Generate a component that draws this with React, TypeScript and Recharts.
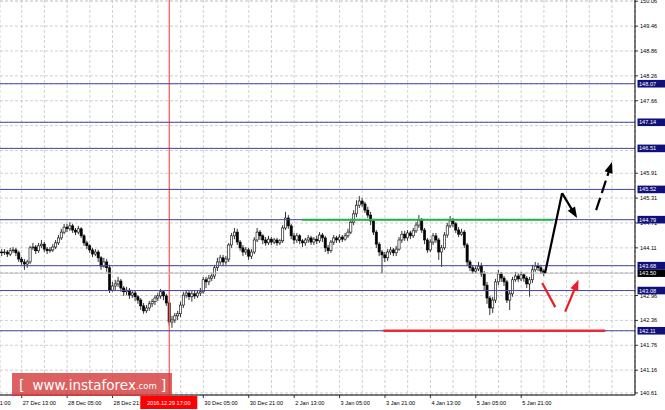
import React from 'react';
import { ComposedChart, Bar, XAxis, YAxis, CartesianGrid, ReferenceLine } from 'recharts';

// ---- candle data (hourly bars) ----
const opens = [144.01,143.99,144.01,143.96,144.04,144.06,143.99,143.84,143.77,143.72,
143.77,144.11,144.13,144.04,144.16,144.20,144.08,144.04,144.06,144.13,
144.23,144.35,144.49,144.61,144.57,144.64,144.54,144.49,144.57,144.40,
144.23,144.16,144.06,143.96,144.01,143.87,143.67,143.77,143.63,143.09,
143.19,143.24,143.31,143.14,143.05,143.09,142.97,143.02,142.93,142.85,
142.71,142.59,142.66,142.76,142.81,142.90,142.95,143.05,142.95,142.78,
142.32,142.37,142.47,142.52,142.73,142.97,143.02,142.93,143.00,142.95,
143.02,143.05,143.34,143.29,143.38,143.43,143.63,143.77,143.87,143.77,
143.84,144.18,144.40,144.49,144.25,144.11,144.01,144.06,143.91,144.01,
144.30,144.49,144.40,144.30,144.23,144.32,144.25,144.30,144.23,144.28,
144.59,144.83,144.64,144.40,144.30,144.40,144.28,144.23,144.30,144.35,
144.25,144.32,144.28,144.42,144.35,144.11,144.04,144.25,144.35,144.30,
144.37,144.32,144.40,144.49,144.73,144.93,145.14,145.24,145.17,145.02,
144.90,144.76,144.49,144.20,144.01,143.94,143.87,144.01,144.06,143.99,
144.08,144.30,144.44,144.35,144.47,144.40,144.52,144.66,144.78,144.54,
144.30,144.06,144.25,144.40,144.30,144.01,144.11,144.42,144.64,144.76,
144.69,144.54,144.44,144.49,144.18,143.77,143.63,143.55,143.60,143.67,
143.48,143.21,142.90,142.66,142.85,143.29,143.48,143.38,143.29,142.85,
143.00,143.34,143.43,143.36,143.46,143.38,143.24,143.34,143.58,143.67,
143.63,143.55];

const highs = [144.08,144.08,144.06,144.11,144.13,144.11,144.04,143.89,143.84,143.82,
144.16,144.23,144.18,144.23,144.30,144.25,144.13,144.13,144.20,144.30,
144.42,144.57,144.69,144.69,144.73,144.69,144.59,144.64,144.61,144.44,
144.28,144.20,144.11,144.08,144.06,143.91,143.87,143.84,143.70,143.29,
143.34,143.41,143.36,143.19,143.17,143.14,143.09,143.07,142.97,142.90,
142.78,142.73,142.83,142.88,142.97,143.02,143.12,143.09,143.00,142.83,
142.47,142.54,142.59,142.81,143.05,143.09,143.09,143.07,143.07,143.09,
143.14,143.41,143.41,143.46,143.50,143.70,143.87,143.94,143.94,143.91,
144.23,144.47,144.59,144.57,144.30,144.18,144.13,144.11,144.08,144.37,
144.59,144.54,144.44,144.37,144.40,144.37,144.35,144.35,144.32,144.66,
144.98,144.90,144.69,144.47,144.47,144.44,144.32,144.35,144.42,144.40,
144.37,144.40,144.49,144.47,144.40,144.18,144.30,144.42,144.40,144.44,
144.42,144.47,144.57,144.81,145.02,145.26,145.36,145.31,145.22,145.10,
144.98,144.81,144.54,144.25,144.06,144.01,144.08,144.13,144.11,144.16,
144.37,144.52,144.52,144.54,144.52,144.59,144.73,144.90,144.83,144.59,
144.35,144.32,144.47,144.47,144.35,144.18,144.49,144.71,144.88,144.83,
144.73,144.61,144.57,144.54,144.23,143.82,143.70,143.67,143.77,143.75,
143.55,143.29,142.95,142.93,143.36,143.58,143.53,143.43,143.34,143.07,
143.41,143.53,143.50,143.53,143.50,143.43,143.41,143.70,143.77,143.75,
143.70,143.60];

const lows = [143.91,143.94,143.89,143.91,143.99,143.91,143.77,143.70,143.58,143.63,
143.72,144.06,143.96,143.99,144.11,144.01,143.96,143.99,144.01,144.08,
144.18,144.30,144.44,144.49,144.52,144.47,144.42,144.44,144.35,144.16,
144.08,143.99,143.89,143.91,143.77,143.58,143.63,143.53,143.02,143.05,
143.09,143.17,143.05,142.95,142.97,142.88,142.90,142.83,142.76,142.61,
142.52,142.54,142.59,142.68,142.73,142.83,142.88,142.85,142.71,142.23,
142.18,142.30,142.37,142.44,142.66,142.90,142.85,142.81,142.88,142.90,
142.95,143.00,143.14,143.21,143.31,143.36,143.55,143.70,143.67,143.70,
143.77,144.11,144.32,144.18,144.04,143.91,143.94,143.82,143.84,143.96,
144.25,144.30,144.20,144.16,144.18,144.18,144.20,144.16,144.18,144.23,
144.54,144.57,144.32,144.20,144.23,144.20,144.13,144.16,144.23,144.18,
144.18,144.20,144.23,144.25,144.01,143.96,143.99,144.18,144.23,144.23,
144.25,144.28,144.35,144.44,144.66,144.85,145.07,145.10,144.95,144.83,
144.66,144.42,144.11,143.91,143.50,143.77,143.79,143.94,143.91,143.91,
144.04,144.23,144.28,144.28,144.32,144.35,144.47,144.59,144.47,144.20,
143.99,144.01,144.18,144.23,143.82,143.65,144.06,144.35,144.59,144.61,
144.47,144.37,144.40,144.11,143.67,143.55,143.48,143.50,143.55,143.41,
143.09,142.76,142.49,142.54,142.78,143.21,143.29,143.19,142.78,142.61,
142.93,143.29,143.29,143.31,143.29,143.14,142.93,143.26,143.53,143.55,
143.48,143.43];

const closes = [143.99,144.01,143.96,144.04,144.06,143.99,143.84,143.77,143.72,143.77,
144.11,144.13,144.04,144.16,144.20,144.08,144.04,144.06,144.13,144.23,
144.35,144.49,144.61,144.57,144.64,144.54,144.49,144.57,144.40,144.23,
144.16,144.06,143.96,144.01,143.87,143.67,143.77,143.63,143.09,143.19,
143.24,143.31,143.14,143.05,143.09,142.97,143.02,142.93,142.85,142.71,
142.59,142.66,142.76,142.81,142.90,142.95,143.05,142.95,142.78,142.32,
142.37,142.47,142.52,142.73,142.97,143.02,142.93,143.00,142.95,143.02,
143.05,143.34,143.29,143.38,143.43,143.63,143.77,143.87,143.77,143.84,
144.18,144.40,144.49,144.25,144.11,144.01,144.06,143.91,144.01,144.30,
144.49,144.40,144.30,144.23,144.32,144.25,144.30,144.23,144.28,144.59,
144.83,144.64,144.40,144.30,144.40,144.28,144.23,144.30,144.35,144.25,
144.32,144.28,144.42,144.35,144.11,144.04,144.25,144.35,144.30,144.37,
144.32,144.40,144.49,144.73,144.93,145.14,145.24,145.17,145.02,144.90,
144.76,144.49,144.20,144.01,143.94,143.87,144.01,144.06,143.99,144.08,
144.30,144.44,144.35,144.47,144.40,144.52,144.66,144.78,144.54,144.30,
144.06,144.25,144.40,144.30,144.01,144.11,144.42,144.64,144.76,144.69,
144.54,144.44,144.49,144.18,143.77,143.63,143.55,143.60,143.67,143.48,
143.21,142.90,142.66,142.85,143.29,143.48,143.38,143.29,142.85,143.00,
143.34,143.43,143.36,143.46,143.38,143.24,143.34,143.58,143.67,143.63,
143.55,143.50];

// ---- axes ----
const xDomain = [-0.65, 223.1];
const gridBars = [7, 15, 23, 31, 39, 47, 55, 63, 71, 79, 87, 95, 103, 111, 119, 127, 135, 143, 151, 159, 167, 175, 183, 191, 199, 207, 215, 223];
const labelBars = [7, 23, 39, 55, 71, 87, 103, 119, 135, 151, 167, 183];
const labelTexts = ['27 Dec 13:00', '28 Dec 05:00', '28 Dec 21:00', '29 Dec 13:00', '30 Dec 05:00', '30 Dec 21:00', '2 Jan 13:00', '3 Jan 05:00', '3 Jan 21:00', '4 Jan 13:00', '5 Jan 05:00', '5 Jan 21:00'];
const prevLabel = '26 Dec 21:00';
const barsPerLabel = 16;

const yDomain = [140.56, 150.09];
const priceTicks = [150.06, 149.46, 148.86, 148.26, 147.66, 147.06, 146.46, 145.91, 145.31, 144.71, 144.11, 143.51, 142.96, 142.36, 141.76, 141.16, 140.61];
const coveredTicks = [147.06, 146.46, 143.51];

// ---- annotations ----
const levels = [148.07, 147.14, 146.51, 145.52, 144.79, 143.68, 143.08, 142.11];
const currentPrice = 143.5;
const markerBar = 59;
const markerText = '2016.12.29 17:00';
const greenSeg = { from: 105.7, to: 194.3, price: 144.79 };
const redSeg = { from: 134.4, to: 212.6, price: 142.11 };

const blackArrows = [
  { pts: [{ x: 191.4, y: 143.5 }, { x: 197.4, y: 145.43 }], head: false, dash: false },
  { pts: [{ x: 197.4, y: 145.43 }, { x: 202.7, y: 144.83 }], head: true, dash: false },
  { pts: [{ x: 209.4, y: 145.02 }, { x: 215.0, y: 146.18 }], head: true, dash: true },
];
const redArrows = [
  { pts: [{ x: 190.4, y: 143.26 }, { x: 195.0, y: 142.68 }], head: false, dash: false },
  { pts: [{ x: 198.5, y: 142.57 }, { x: 203.2, y: 143.34 }], head: true, dash: false },
];

const FONT = 'Liberation Sans, Arial, sans-serif';
const FS = 5.6;

const data = closes.map((c, i) => ({
  i,
  o: opens[i],
  h: highs[i],
  l: lows[i],
  c,
  range: [lows[i], highs[i]],
}));

// tick lists: extra ticks (marker / levels) come last so they are painted on top
const xTicks = [...gridBars, markerBar];
const yTicks = [...priceTicks, currentPrice, ...levels];

const Candle = (props: any) => {
  const { x, y, width, height, payload } = props;
  if (x == null || y == null || !payload) return null;
  const top = Math.min(y, y + height);
  const hgt = Math.abs(height);
  const { o, h, l, c } = payload;
  const cx = x + width / 2;
  const ppu = h === l ? 0 : hgt / (h - l);
  const yO = top + (h - o) * ppu;
  const yC = top + (h - c) * ppu;
  const bTop = Math.min(yO, yC);
  const bH = Math.max(Math.abs(yO - yC), 0.8);
  const bull = c >= o;
  return (
    <g>
      <line x1={cx} x2={cx} y1={top} y2={top + hgt} stroke="#000" strokeWidth={0.8} />
      <rect x={cx - 1.1} y={bTop} width={2.2} height={bH} fill={bull ? '#fff' : '#000'} stroke="#000" strokeWidth={0.6} />
    </g>
  );
};

const XTick = (props: any) => {
  const { x, y, payload } = props;
  const v = payload.value;
  if (v === markerBar && xTicks.indexOf(v) === xTicks.length - 1) {
    return (
      <g>
        <rect x={x - 29} y={y + 1} width={57} height={13} fill="#ff0000" />
        <text x={x - 0.5} y={y + 10} textAnchor="middle" fontSize={FS} fontFamily={FONT} fill="#fff">{markerText}</text>
      </g>
    );
  }
  const idx = labelBars.indexOf(v);
  if (idx < 0) return null;
  const pxPerBar = 635 / (xDomain[1] - xDomain[0]);
  return (
    <g>
      <line x1={x} x2={x} y1={y} y2={y + 3} stroke="#000" strokeWidth={0.8} />
      <text x={x + 1} y={y + 10} fontSize={FS} fontFamily={FONT} fill="#000">{labelTexts[idx]}</text>
      {idx === 0 && (
        <text x={x - barsPerLabel * pxPerBar + 1} y={y + 10} fontSize={FS} fontFamily={FONT} fill="#000">{prevLabel}</text>
      )}
    </g>
  );
};

const YTick = (props: any) => {
  const { x, y, payload } = props;
  const v = payload.value;
  const isLevel = levels.includes(v);
  const isCurrent = v === currentPrice;
  if (isLevel || isCurrent) {
    return (
      <g>
        <rect x={x + 2.5} y={y - 3.8} width={28} height={7.6} fill={isCurrent ? '#000' : '#10107a'} />
        <text x={x + 4} y={y} dy="0.36em" fontSize={FS} fontFamily={FONT} fill="#fff">{v.toFixed(2)}</text>
      </g>
    );
  }
  if (coveredTicks.includes(v)) return null;
  return (
    <g>
      <line x1={x} x2={x + 3} y1={y} y2={y} stroke="#000" strokeWidth={0.8} />
      <text x={x + 5} y={y} dy="0.36em" fontSize={FS} fontFamily={FONT} fill="#000">{v.toFixed(2)}</text>
    </g>
  );
};

const arrowShape = (color: string, head: boolean, dash: boolean) => (p: any) => {
  const { x1, y1, x2, y2 } = p;
  if (x1 == null) return null;
  const dx = x2 - x1;
  const dy = y2 - y1;
  const len = Math.sqrt(dx * dx + dy * dy) || 1;
  const ux = dx / len;
  const uy = dy / len;
  const L = 11;
  const W = 4.2;
  const ex = head ? x2 - ux * (L - 2) : x2;
  const ey = head ? y2 - uy * (L - 2) : y2;
  const bx = x2 - ux * L;
  const by = y2 - uy * L;
  const pts = `${x2},${y2} ${bx - uy * W},${by + ux * W} ${bx + uy * W},${by - ux * W}`;
  return (
    <g>
      <line x1={x1} y1={y1} x2={ex} y2={ey} stroke={color} strokeWidth={2.2} strokeDasharray={dash ? '13 5' : undefined} strokeLinecap="butt" />
      {head && <polygon points={pts} fill={color} />}
    </g>
  );
};

export default function App() {
  return (
    <div style={{ position: 'absolute', left: 0, top: 0, width: 665, height: 410, background: '#fff', overflow: 'hidden' }}>
      <ComposedChart width={665} height={410} data={data} margin={{ top: 0, right: 0, bottom: 0, left: 0 }}>
        <CartesianGrid stroke="#c4c4c4" strokeDasharray="3 2" strokeWidth={0.8} />
        <XAxis
          dataKey="i"
          type="number"
          domain={xDomain}
          allowDataOverflow
          ticks={xTicks}
          interval={0}
          height={15}
          tickSize={0}
          tickMargin={0}
          tickLine={false}
          axisLine={{ stroke: '#000', strokeWidth: 1 }}
          tick={<XTick />}
        />
        <YAxis
          orientation="right"
          type="number"
          domain={yDomain}
          allowDataOverflow
          ticks={yTicks}
          interval={0}
          width={30}
          tickSize={0}
          tickMargin={0}
          tickLine={false}
          axisLine={{ stroke: '#000', strokeWidth: 1 }}
          tick={<YTick />}
        />
        <ReferenceLine x={markerBar} stroke="#ff6060" strokeWidth={1.3} />
        <ReferenceLine y={currentPrice} stroke="#c0c0c0" strokeWidth={1} />
        {levels.map((lv) => (
          <ReferenceLine key={lv} y={lv} stroke="#4646a6" strokeWidth={1} />
        ))}
        <Bar dataKey="range" barSize={3} shape={Candle} isAnimationActive={false} />
        <ReferenceLine
          segment={[{ x: greenSeg.from, y: greenSeg.price }, { x: greenSeg.to, y: greenSeg.price }]}
          stroke="#22b34a"
          strokeWidth={2}
        />
        <ReferenceLine
          segment={[{ x: redSeg.from, y: redSeg.price }, { x: redSeg.to, y: redSeg.price }]}
          stroke="#ee2a36"
          strokeWidth={2.4}
        />
        {blackArrows.map((a, k) => (
          <ReferenceLine key={'b' + k} segment={a.pts} stroke="#000" shape={arrowShape('#000', a.head, a.dash)} />
        ))}
        {redArrows.map((a, k) => (
          <ReferenceLine key={'r' + k} segment={a.pts} stroke="#ee1c24" shape={arrowShape('#ee1c24', a.head, a.dash)} />
        ))}
      </ComposedChart>
      <div
        style={{
          position: 'absolute',
          left: 12,
          top: 373,
          width: 160,
          height: 23,
          background: 'rgba(212,58,58,0.8)',
          color: '#fff',
          fontFamily: 'DejaVu Sans, sans-serif',
          display: 'flex',
          alignItems: 'center',
          whiteSpace: 'nowrap',
          boxSizing: 'border-box',
          paddingLeft: 7,
        }}
      >
        <span style={{ fontSize: 14 }}>[</span>
        <span style={{ fontSize: 13.5, marginLeft: 8 }}>www.instaforex</span>
        <span style={{ fontSize: 8.5, marginTop: 3 }}>.com</span>
        <span style={{ fontSize: 14, marginLeft: 4 }}>]</span>
      </div>
    </div>
  );
}
